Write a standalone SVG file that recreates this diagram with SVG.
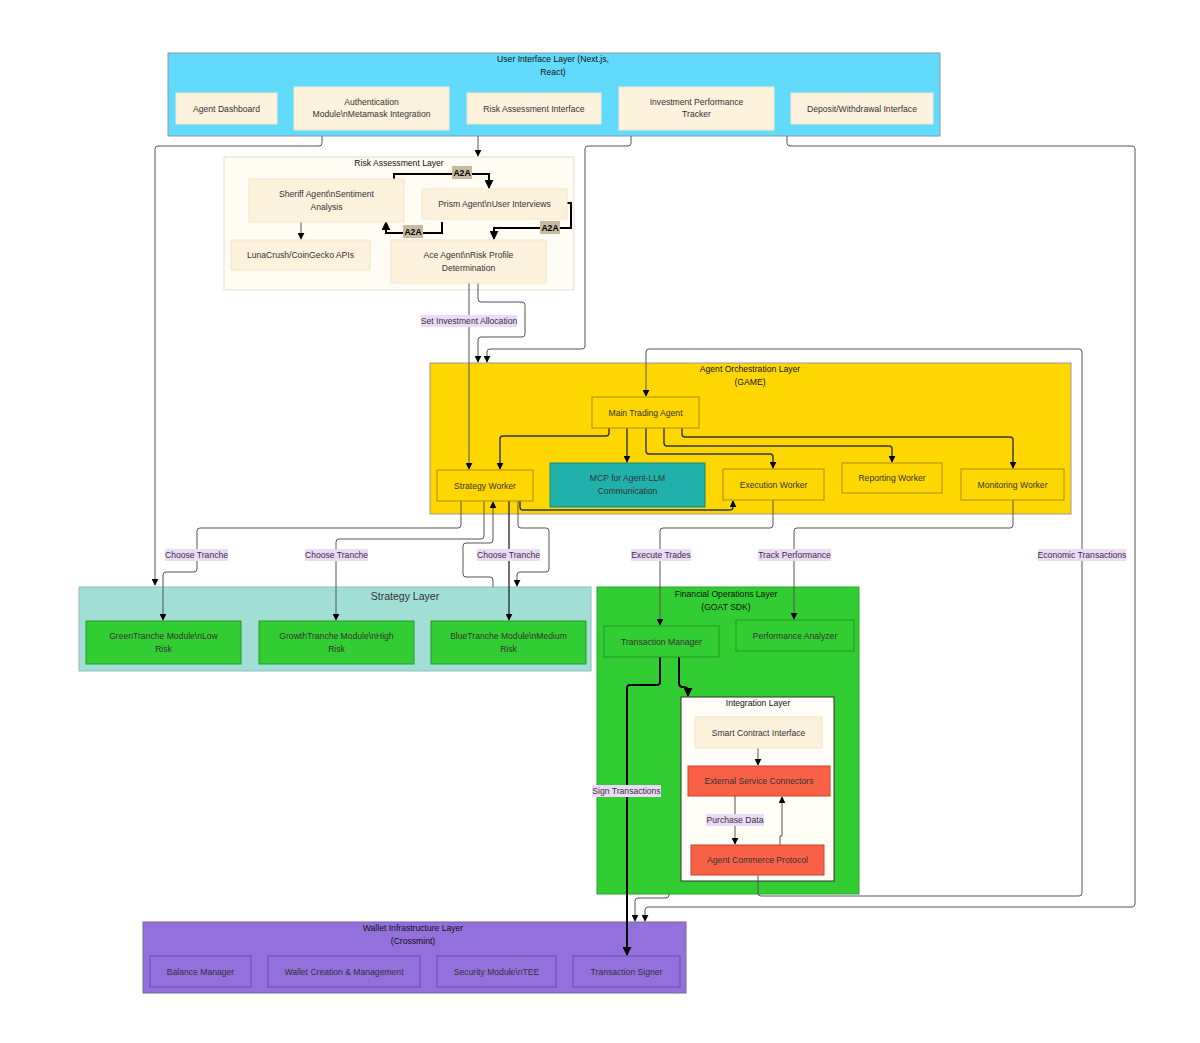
<svg xmlns="http://www.w3.org/2000/svg" width="1200" height="1043" viewBox="0 0 1200 1043">
<style>
text{font-family:"Liberation Sans",Arial,sans-serif;font-size:8.6px;fill:#333;text-anchor:middle;dominant-baseline:central}
.title{fill:#111}
.e{fill:none;stroke:#555;stroke-width:1}
.ed{fill:none;stroke:#333;stroke-width:1.4}
.et{fill:none;stroke:#000;stroke-width:2}
.lbl{fill:#ecdaf8}
.a2a{fill:#c6b99e}
.a2at{font-weight:bold;fill:#000;font-size:8.6px}
.cream{fill:#fdf2dc;stroke:#f3e6c9;stroke-width:1}
.gold{fill:#ffd700;stroke:#a89000;stroke-width:1}
.grn{fill:#32cd32;stroke:#249a24;stroke-width:1}
.tom{fill:#f86146;stroke:#c8452c;stroke-width:1}
.pur{fill:#9370db;stroke:#6a4cb0;stroke-width:1}
</style>
<defs>
<marker id="arr" viewBox="0 0 10 10" refX="9" refY="5" markerWidth="7" markerHeight="7" markerUnits="userSpaceOnUse" orient="auto"><path d="M0,0 L10,5 L0,10 z" fill="#000"/></marker>
<marker id="arrB" viewBox="0 0 10 10" refX="9" refY="5" markerWidth="9" markerHeight="9" markerUnits="userSpaceOnUse" orient="auto"><path d="M0,0 L10,5 L0,10 z" fill="#000"/></marker>
</defs>
<rect width="1200" height="1043" fill="#fff"/>

<g id="clusters">
<g id="ui-layer"><rect x="168" y="53" width="772" height="83" fill="#61dafb" stroke="#8a9aa6"/><text class="title" x="553" y="59">User Interface Layer (Next.js,</text><text class="title" x="553" y="72">React)</text></g>
<g id="risk-layer"><rect x="224" y="157" width="350" height="133" fill="#fffcf3" stroke="#e2dfd6"/><text class="title" x="399" y="163">Risk Assessment Layer</text></g>
<g id="orch-layer"><rect x="430" y="363" width="641" height="151" fill="#ffd700" stroke="#999"/><text class="title" x="750" y="369">Agent Orchestration Layer</text><text class="title" x="750" y="382">(GAME)</text></g>
<g id="strategy-layer"><rect x="79" y="587" width="512" height="84" fill="#a1ded6" stroke="#8dbfb7"/><text x="405" y="596" style="font-size:10.5px">Strategy Layer</text></g>
<g id="finops-layer"><rect x="597" y="587" width="262" height="307" fill="#32cd32" stroke="#2aa82a"/><text class="title" x="726" y="594">Financial Operations Layer</text><text class="title" x="726" y="607">(GOAT SDK)</text></g>
<g id="integration-layer"><rect x="681" y="697" width="153" height="184" fill="#fffdf5" stroke="#333"/><text class="title" x="758" y="703">Integration Layer</text></g>
<g id="wallet-layer"><rect x="143" y="922" width="543" height="71" fill="#9370db" stroke="#7a66a0"/><text class="title" x="413" y="928">Wallet Infrastructure Layer</text><text class="title" x="413" y="941">(Crossmint)</text></g>
</g>

<g id="connectors">
<path class="e" d="M322,136 V143 Q322,146 319,146 H158 Q155,146 155,149 V585" marker-end="url(#arr)"/>
<path class="e" d="M478,136 V156" marker-end="url(#arr)"/>
<path class="e" d="M631,136 V143 Q631,146 628,146 H588 Q585,146 585,149 V346 Q585,349 582,349 H490 Q487,349 487,352 V362" marker-end="url(#arr)"/>
<path class="e" d="M478,283 V299 Q478,302 481,302 H522 Q525,302 525,305 V334 Q525,337 522,337 H481 Q478,337 478,340 V362" marker-end="url(#arr)"/>
<path class="e" d="M469,283 V469" marker-end="url(#arr)"/>
<path class="e" d="M787,136 V143 Q787,146 790,146 H1132 Q1135,146 1135,149 V904 Q1135,907 1132,907 H648 Q645,907 645,910 V921" marker-end="url(#arr)"/>
<path class="e" d="M758,875 V893 Q758,896 761,896 H1079 Q1082,896 1082,893 V352 Q1082,349 1079,349 H649 Q646,349 646,352 V396" marker-end="url(#arr)"/>
<path class="e" d="M669,894 V895 Q669,898 666,898 H638 Q635,898 635,901 V921" marker-end="url(#arr)"/>
<path class="et" d="M660,657 V682 Q660,685 657,685 H630 Q627,685 627,688 V955" marker-end="url(#arrB)"/>
<path class="et" d="M679,657 V683 Q679,687 683,687 Q688,687 688,691 V696" marker-end="url(#arrB)"/>
<path class="e" d="M758,748 V765" marker-end="url(#arr)"/>
<path class="e" d="M735,796 V844" marker-end="url(#arr)"/>
<path class="e" d="M780,845 V836 H782 V797" marker-end="url(#arr)"/>
<path class="e" d="M301,222 V239" marker-end="url(#arr)"/>
<path class="et" d="M394,179 V174 H489 V188" marker-end="url(#arrB)"/>
<path class="et" d="M567,203 H571 V228 H494 V239" marker-end="url(#arrB)"/>
<path class="et" d="M442,222 V233 H386 V222" marker-end="url(#arrB)"/>
<path class="ed" d="M609,428 V433 Q609,436 606,436 H503 Q500,436 500,439 V469" marker-end="url(#arr)"/>
<path class="ed" d="M627,428 V462" marker-end="url(#arr)"/>
<path class="ed" d="M646,428 V451 Q646,454 649,454 H770 Q773,454 773,457 V468" marker-end="url(#arr)"/>
<path class="ed" d="M664,428 V443 Q664,446 667,446 H889 Q892,446 892,449 V462" marker-end="url(#arr)"/>
<path class="ed" d="M682,428 V434 Q682,437 685,437 H1010 Q1013,437 1013,440 V468" marker-end="url(#arr)"/>
<path class="ed" d="M520,501 V507 Q520,510 523,510 H730 Q733,510 733,507 V501" marker-end="url(#arr)"/>
<path class="e" d="M461,501 V525 Q461,528 458,528 H200 Q197,528 197,531 V569 Q197,572 194,572 H166 Q163,572 163,575 V620" marker-end="url(#arr)"/>
<path class="e" d="M484,501 V536 Q484,539 481,539 H339 Q336,539 336,542 V620" marker-end="url(#arr)"/>
<path class="e" d="M493,587 V580 Q493,577 490,577 H466 Q463,577 463,574 V546 Q463,543 466,543 H490 Q493,543 493,540 V502" marker-end="url(#arr)"/>
<path class="ed" d="M509,501 V620" marker-end="url(#arr)"/>
<path class="e" d="M518,501 V525 Q518,528 521,528 H546 Q549,528 549,531 V569 Q549,572 546,572 H520 Q517,572 517,575 V586" marker-end="url(#arr)"/>
<path class="e" d="M773,500 V525 Q773,528 770,528 H663 Q660,528 660,531 V625" marker-end="url(#arr)"/>
<path class="e" d="M1013,500 V525 Q1013,528 1010,528 H797 Q794,528 794,531 V619" marker-end="url(#arr)"/>

<g id="edge-labels">
<rect class="a2a" x="452" y="166" width="20" height="13"/><text class="a2at" x="462" y="172.5">A2A</text>
<rect class="a2a" x="540" y="221" width="20" height="13"/><text class="a2at" x="550" y="227.5">A2A</text>
<rect class="a2a" x="403" y="225" width="20" height="13"/><text class="a2at" x="413" y="231.5">A2A</text>
<rect class="lbl" x="421" y="315" width="96" height="12"/><text x="469" y="321">Set Investment Allocation</text>
<rect class="lbl" x="165" y="549" width="63" height="12"/><text x="196.5" y="555">Choose Tranche</text>
<rect class="lbl" x="305" y="549" width="63" height="12"/><text x="336.5" y="555">Choose Tranche</text>
<rect class="lbl" x="477" y="549" width="63" height="12"/><text x="508.5" y="555">Choose Tranche</text>
<rect class="lbl" x="631" y="549" width="60" height="12"/><text x="661" y="555">Execute Trades</text>
<rect class="lbl" x="758" y="549" width="73" height="12"/><text x="794.5" y="555">Track Performance</text>
<rect class="lbl" x="1038" y="549" width="88" height="12"/><text x="1082" y="555">Economic Transactions</text>
<rect class="lbl" x="592" y="785" width="69" height="12"/><text x="626.5" y="791">Sign Transactions</text>
<rect class="lbl" x="706" y="814" width="58" height="12"/><text x="735" y="820">Purchase Data</text>
</g>
</g>

<g id="agent-dashboard"><rect class="cream" x="176" y="93" width="101" height="31"/><text x="226.5" y="109">Agent Dashboard</text></g>
<g id="auth-module"><rect class="cream" x="294" y="87" width="155" height="43"/><text x="371.5" y="102">Authentication</text><text x="371.5" y="114">Module\nMetamask Integration</text></g>
<g id="risk-interface"><rect class="cream" x="467" y="93" width="134" height="31"/><text x="534" y="109">Risk Assessment Interface</text></g>
<g id="perf-tracker"><rect class="cream" x="619" y="87" width="155" height="43"/><text x="696.5" y="102">Investment Performance</text><text x="696.5" y="114">Tracker</text></g>
<g id="deposit-interface"><rect class="cream" x="791" y="93" width="142" height="31"/><text x="862" y="109">Deposit/Withdrawal Interface</text></g>

<g id="sheriff"><rect class="cream" x="249" y="179" width="155" height="43"/><text x="326.5" y="194">Sheriff Agent\nSentiment</text><text x="326.5" y="207">Analysis</text></g>
<g id="prism"><rect class="cream" x="422" y="189" width="145" height="30"/><text x="494.5" y="204">Prism Agent\nUser Interviews</text></g>
<g id="lunacrush"><rect class="cream" x="231" y="240" width="139" height="30"/><text x="300.5" y="255">LunaCrush/CoinGecko APIs</text></g>
<g id="ace"><rect class="cream" x="391" y="240" width="155" height="43"/><text x="468.5" y="255">Ace Agent\nRisk Profile</text><text x="468.5" y="268">Determination</text></g>

<g id="main-trading-agent"><rect class="gold" x="592" y="397" width="107" height="31"/><text x="645.5" y="413">Main Trading Agent</text></g>
<g id="strategy-worker"><rect class="gold" x="437" y="470" width="96" height="31"/><text x="485" y="486">Strategy Worker</text></g>
<g id="mcp"><rect x="550" y="463" width="155" height="44" fill="#20b2aa" stroke="#15877f"/><text x="627.5" y="478">MCP for Agent-LLM</text><text x="627.5" y="491">Communication</text></g>
<g id="execution-worker"><rect class="gold" x="723" y="469" width="101" height="31"/><text x="773.5" y="485">Execution Worker</text></g>
<g id="reporting-worker"><rect class="gold" x="842" y="463" width="100" height="30"/><text x="892" y="478">Reporting Worker</text></g>
<g id="monitoring-worker"><rect class="gold" x="961" y="469" width="103" height="31"/><text x="1012.5" y="485">Monitoring Worker</text></g>

<g id="green-tranche"><rect class="grn" x="86" y="621" width="155" height="43"/><text x="163.5" y="636">GreenTranche Module\nLow</text><text x="163.5" y="649">Risk</text></g>
<g id="growth-tranche"><rect class="grn" x="259" y="621" width="155" height="43"/><text x="336.5" y="636">GrowthTranche Module\nHigh</text><text x="336.5" y="649">Risk</text></g>
<g id="blue-tranche"><rect class="grn" x="431" y="621" width="155" height="43"/><text x="508.5" y="636">BlueTranche Module\nMedium</text><text x="508.5" y="649">Risk</text></g>

<g id="transaction-manager"><rect class="grn" x="604" y="626" width="115" height="31"/><text x="661.5" y="642">Transaction Manager</text></g>
<g id="performance-analyzer"><rect class="grn" x="736" y="620" width="118" height="31"/><text x="795" y="636">Performance Analyzer</text></g>
<g id="smart-contract"><rect class="cream" x="695" y="717" width="127" height="31"/><text x="758.5" y="733">Smart Contract Interface</text></g>
<g id="external-connectors"><rect class="tom" x="688" y="766" width="142" height="30"/><text x="759" y="781">External Service Connectors</text></g>
<g id="acp"><rect class="tom" x="691" y="845" width="133" height="30"/><text x="757.5" y="860">Agent Commerce Protocol</text></g>

<g id="balance-manager"><rect class="pur" x="150" y="956" width="101" height="31"/><text x="200.5" y="972">Balance Manager</text></g>
<g id="wallet-creation"><rect class="pur" x="268" y="956" width="152" height="31"/><text x="344" y="972">Wallet Creation &amp; Management</text></g>
<g id="security-module"><rect class="pur" x="437" y="956" width="119" height="31"/><text x="496.5" y="972">Security Module\nTEE</text></g>
<g id="transaction-signer"><rect class="pur" x="573" y="956" width="107" height="31"/><text x="626.5" y="972">Transaction Signer</text></g>
</svg>
